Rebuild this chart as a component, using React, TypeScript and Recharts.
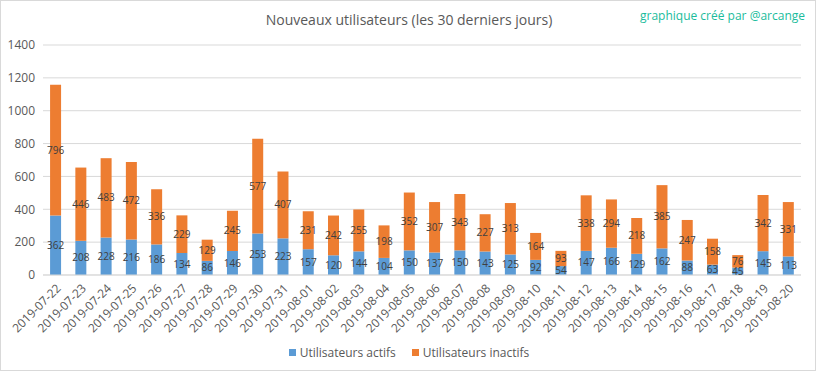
import React from "react";
import {
  BarChart,
  Bar,
  XAxis,
  YAxis,
  CartesianGrid,
  LabelList,
} from "recharts";

const dates = [
  "2019-07-22", "2019-07-23", "2019-07-24", "2019-07-25", "2019-07-26",
  "2019-07-27", "2019-07-28", "2019-07-29", "2019-07-30", "2019-07-31",
  "2019-08-01", "2019-08-02", "2019-08-03", "2019-08-04", "2019-08-05",
  "2019-08-06", "2019-08-07", "2019-08-08", "2019-08-09", "2019-08-10",
  "2019-08-11", "2019-08-12", "2019-08-13", "2019-08-14", "2019-08-15",
  "2019-08-16", "2019-08-17", "2019-08-18", "2019-08-19", "2019-08-20",
];

const actifs = [
  362, 208, 228, 216, 186, 134, 86, 146, 253, 223,
  157, 120, 144, 104, 150, 137, 150, 143, 125, 92,
  54, 147, 166, 129, 162, 88, 63, 45, 145, 113,
];

const inactifs = [
  796, 446, 483, 472, 336, 229, 129, 245, 577, 407,
  231, 242, 255, 198, 352, 307, 343, 227, 313, 164,
  93, 338, 294, 218, 385, 247, 158, 76, 342, 331,
];

const yTicks = [0, 200, 400, 600, 800, 1000, 1200, 1400];

const data = dates.map((d, i) => ({
  date: d,
  actifs: actifs[i],
  inactifs: inactifs[i],
}));

const FONT = "'Open Sans', 'Noto Sans', sans-serif";

const App = () => {
  return (
    <div
      style={{
        position: "absolute",
        left: 0,
        top: 0,
        width: 816,
        height: 371,
        background: "#fff",
        boxSizing: "border-box",
        border: "1px solid #d9d9d9",
        fontFamily: FONT,
      }}
    >
      <div
        style={{
          position: "absolute",
          top: 9,
          left: 0,
          width: 816,
          textAlign: "center",
          fontSize: 14,
          color: "#595959",
        }}
      >
        Nouveaux utilisateurs (les 30 derniers jours)
      </div>
      <div
        style={{
          position: "absolute",
          top: 6,
          right: 10,
          fontSize: 12,
          color: "#1ABC9C",
        }}
      >
        graphique créé par @arcange
      </div>
      <BarChart
        width={814}
        height={369}
        data={data}
        barCategoryGap="28%"
        margin={{ top: 44, right: 14, left: 0, bottom: 36 }}
      >
        <CartesianGrid vertical={false} stroke="#d9d9d9" />
        <XAxis
          dataKey="date"
          interval={0}
          angle={-45}
          textAnchor="end"
          height={59}
          tickLine={false}
          axisLine={{ stroke: "#d9d9d9" }}
          tick={{ fontSize: 12, fill: "#595959", fontFamily: FONT }}
        />
        <YAxis
          domain={[0, 1400]}
          ticks={yTicks}
          width={42}
          axisLine={false}
          tickLine={false}
          tick={{ fontSize: 12, fill: "#595959", fontFamily: FONT }}
        />
        <Bar dataKey="actifs" stackId="a" fill="#5B9BD5" isAnimationActive={false}>
          <LabelList
            dataKey="actifs"
            position="center"
            style={{ fontSize: 10, fill: "#404040", fontFamily: FONT }}
          />
        </Bar>
        <Bar dataKey="inactifs" stackId="a" fill="#ED7D31" isAnimationActive={false}>
          <LabelList
            dataKey="inactifs"
            position="center"
            style={{ fontSize: 10, fill: "#404040", fontFamily: FONT }}
          />
        </Bar>
      </BarChart>
      <div
        style={{
          position: "absolute",
          top: 343,
          left: 0,
          width: 816,
          display: "flex",
          justifyContent: "center",
          gap: 16,
          fontSize: 12,
          color: "#595959",
        }}
      >
        <span style={{ display: "flex", alignItems: "center" }}>
          <span style={{ width: 7, height: 7, background: "#5B9BD5", marginRight: 4 }} />
          Utilisateurs actifs
        </span>
        <span style={{ display: "flex", alignItems: "center" }}>
          <span style={{ width: 7, height: 7, background: "#ED7D31", marginRight: 4 }} />
          Utilisateurs inactifs
        </span>
      </div>
    </div>
  );
};

export default App;
